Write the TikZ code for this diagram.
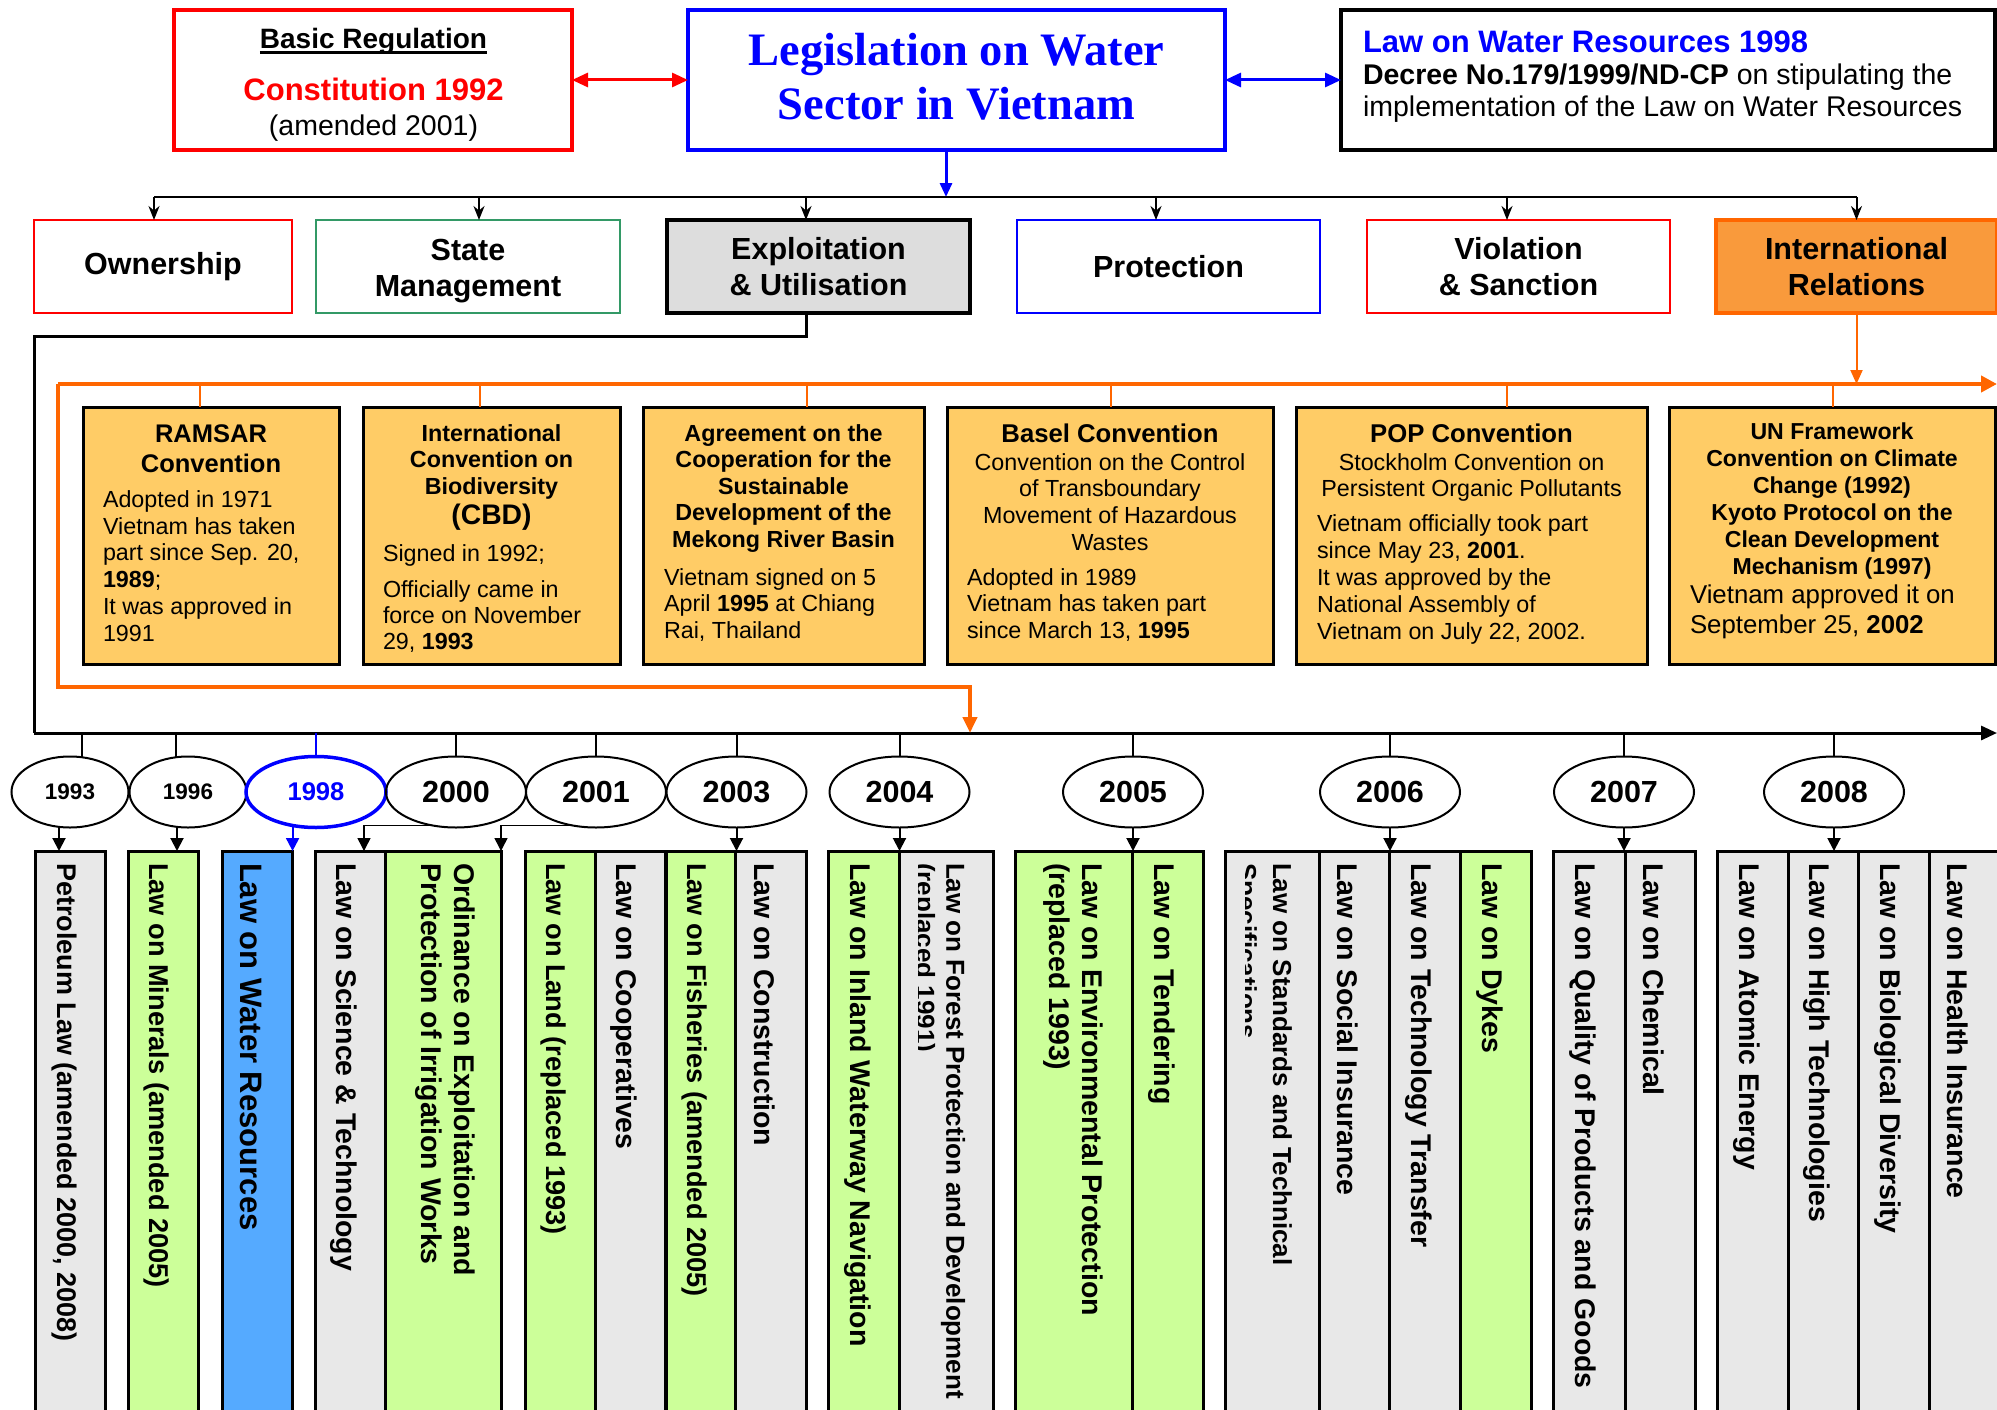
\documentclass[tikz,border=0pt]{standalone}
\usepackage{fontspec}
\setmainfont{Liberation Sans}
\newfontfamily\headserif{Liberation Serif}
\usetikzlibrary{arrows.meta,shapes.geometric,calc}

\definecolor{lawgray}{HTML}{E8E8E8}
\definecolor{lawgreen}{HTML}{CCFF99}
\definecolor{lawblue}{HTML}{55AAFF}
\definecolor{convfill}{HTML}{FFCC66}
\definecolor{irfill}{HTML}{F99A3C}
\definecolor{orangeline}{HTML}{FF6600}
\definecolor{smgreen}{HTML}{339966}
\definecolor{expgray}{HTML}{DDDDDD}

\newcommand\fsz[2]{\fontsize{#1}{#2}\selectfont}

\begin{document}
\begin{tikzpicture}[x=1pt,y=-1pt,
  every node/.style={inner sep=0pt,outer sep=0pt},
  catbox/.style={draw, minimum width=#1, minimum height=93, align=center,
    font=\bfseries\fsz{30.5}{36}},
  convbox/.style={draw, line width=3pt, fill=convfill, minimum width=#1, minimum height=257},
  ctitle/.style 2 args={anchor=north, align=center, font=\bfseries\fsz{#1}{#2}},
  csub/.style 2 args={anchor=north, align=center, font=\fsz{#1}{#2}},
  cbody/.style 2 args={anchor=north west, align=left, font=\fsz{#1}{#2}},
  lawbox/.style={draw, line width=3pt, anchor=north west, minimum width=#1, minimum height=600},
  lawtxt/.style={rotate=-90, anchor=west, align=left, font=\bfseries\fsz{28.5}{33}},
  yearell/.style={draw, ellipse, line width=2pt, minimum width=140, minimum height=71,
    font=\bfseries\fsz{30.5}{34}},
  catarr/.style={line width=2pt, -{Stealth[length=14pt,width=11pt]}},
  yarr/.style={line width=2pt, -{Triangle[length=13pt,width=13pt]}},
  tickline/.style={line width=2pt},
  otick/.style={line width=2pt, orangeline},
]
\fill[white] (0,0) rectangle (1997,1410);
\useasboundingbox (0,0) rectangle (1997,1410);

% ---------- top row ----------
\node[draw=red, line width=3.5pt, minimum width=398, minimum height=140] (basic) at (373,80) {};
\node[anchor=base, font=\bfseries\fsz{28}{32}] (basicT) at (373.5,48.5) {Basic Regulation};
\draw[line width=3pt] ([yshift=-4.5pt]basicT.base west) -- ([yshift=-4.5pt]basicT.base east);
\node[anchor=base, font=\bfseries\fsz{31}{34}, text=red] (const) at (373.5,100.5) {Constitution 1992};
\node[anchor=base, font=\fsz{28.5}{32}] (amend) at (373.5,135.5) {(amended 2001)};

\node[draw=blue, line width=3.5pt, minimum width=537, minimum height=140] (title) at (956.5,80) {};
\node[anchor=base, font=\headserif\bfseries\fsz{46.5}{52}, text=blue] (title1) at (956.5,66) {Legislation on Water};
\node[anchor=base, font=\headserif\bfseries\fsz{46.5}{52}, text=blue] (title2) at (956.5,120) {Sector in Vietnam};

\node[draw, line width=4pt, minimum width=654, minimum height=140] (water) at (1668,80) {};
\node[anchor=base west, font=\bfseries\fsz{31}{34}, text=blue] (lwr) at (1363,52.5) {Law on Water Resources 1998};
\node[anchor=base west, font=\fsz{28.5}{32}] (decree1) at (1363,84.5) {\textbf{Decree No.179/1999/ND-CP} on stipulating the};
\node[anchor=base west, font=\fsz{28.5}{32}] (decree2) at (1363,117) {implementation of the Law on Water Resources};

\draw[line width=3pt, red, {Triangle[length=16pt,width=14pt]}-{Triangle[length=16pt,width=14pt]}] (basic.east) -- (title.west);
\draw[line width=3pt, blue, {Triangle[length=16pt,width=14pt]}-{Triangle[length=16pt,width=14pt]}] (title.east) -- (water.west);

% ---------- categories ----------
\node[catbox=258, draw=red, line width=2pt] (own) at (163,266.5) {Ownership};
\node[catbox=304, draw=smgreen, line width=2.5pt] (sm) at (468,266.5) {};
\node[align=center, font=\bfseries\fsz{30.5}{36}] (smT) at ([yshift=-5pt]sm.center) {State\\Management};
\node[catbox=303, fill=expgray, line width=4pt] (exp) at (818.5,266.5) {Exploitation\\\& Utilisation};
\node[catbox=303, draw=blue, line width=2.5pt] (prot) at (1168.5,266.5) {Protection};
\node[catbox=303, draw=red, line width=2pt] (viol) at (1518.5,266.5) {Violation\\\& Sanction};
\node[catbox=281, draw=orangeline, fill=irfill, line width=4pt] (ir) at (1856.5,266.5) {International\\Relations};

\coordinate (hub) at (946,197);
\draw[line width=3pt, blue, -{Triangle[length=14pt,width=12pt]}] (title.south -| hub) -- (hub);
\draw[line width=2pt] ([xshift=-9pt]own.north |- hub) -- (ir.north |- hub);
\draw[catarr] ([xshift=-9pt]own.north |- hub) -- ([xshift=-9pt]own.north);
\draw[catarr] ([xshift=11pt]sm.north |- hub) -- ([xshift=11pt]sm.north);
\draw[catarr] ([xshift=-12.5pt]exp.north |- hub) -- ([xshift=-12.5pt]exp.north);
\draw[catarr] ([xshift=-12.5pt]prot.north |- hub) -- ([xshift=-12.5pt]prot.north);
\draw[catarr] ([xshift=-11.5pt]viol.north |- hub) -- ([xshift=-11.5pt]viol.north);
\draw[catarr] (ir.north |- hub) -- (ir.north);

% ---------- timeline ----------
\coordinate (tl0) at (34,733);
\coordinate (tlend) at (1997,733);
\draw[line width=3pt] ([xshift=-12.5pt]exp.south) -- ++(0,23) -| (tl0);
\draw[line width=3pt, -{Triangle[length=16pt,width=14pt]}] (tl0) -- (tlend);

% ---------- international conventions ----------
\coordinate (oL) at (58,384);
\coordinate (oR) at (1997,384);
\coordinate (oD) at (970,687);
\draw[line width=4pt, orangeline, -{Triangle[length=16pt,width=16pt]}] (oL) -- (oR);
\draw[line width=4pt, orangeline, -{Triangle[length=16pt,width=14pt]}] (oL) |- (oD) -- (oD |- tl0);
\draw[line width=2pt, orangeline, -{Triangle[length=14pt,width=12pt]}] (ir.south) -- (ir.south |- oL);

\node[convbox=256] (ramsar) at (211,535.5) {};
\node[convbox=257] (cbd) at (491.5,535.5) {};
\node[convbox=281] (mekong) at (783.5,535.5) {};
\node[convbox=326] (basel) at (1110,535.5) {};
\node[convbox=351] (pop) at (1471.5,535.5) {};
\node[convbox=326] (unf) at (1832,535.5) {};

\draw[otick] ([xshift=-11pt]ramsar.north |- oL) -- ([xshift=-11pt]ramsar.north);
\draw[otick] ([xshift=-11.5pt]cbd.north |- oL) -- ([xshift=-11.5pt]cbd.north);
\draw[otick] ([xshift=23.5pt]mekong.north |- oL) -- ([xshift=23.5pt]mekong.north);
\draw[otick] ([xshift=1pt]basel.north |- oL) -- ([xshift=1pt]basel.north);
\draw[otick] ([xshift=35.5pt]pop.north |- oL) -- ([xshift=35.5pt]pop.north);
\draw[otick] ([xshift=1pt]unf.north |- oL) -- ([xshift=1pt]unf.north);

\node[ctitle={25.5}{30}] (ramsarT) at (211,424.6) {RAMSAR\\Convention};
\node[cbody={23.3}{26.8}] (ramsarB) at (103,490.4) {Adopted in 1971\\Vietnam has taken\\part since Sep. 20,\\\textbf{1989};\\It was approved in\\1991};

\node[ctitle={23.3}{26.5}] (cbdT) at (491.5,424.4) {International\\Convention on\\Biodiversity};
\node[ctitle={28.3}{32}] (cbdA) at (491.5,503.5) {(CBD)};
\node[cbody={23.3}{26.2}] (cbdB) at (383,544.4) {Signed in 1992;};
\node[cbody={23.3}{26.2}] (cbdC) at (383,580.4) {Officially came in\\force on November\\29, \textbf{1993}};

\node[ctitle={23.3}{26.5}] (mekongT) at (783.5,424.4) {Agreement on the\\Cooperation for the\\Sustainable\\Development of the\\Mekong River Basin};
\node[cbody={23.3}{26.7}] (mekongB) at (664,568.4) {Vietnam signed on 5\\April \textbf{1995} at Chiang\\Rai, Thailand};

\node[ctitle={25.7}{30}] (baselT) at (1110,423.5) {Basel Convention};
\node[csub={23.3}{26.7}] (baselS) at (1110,453.4) {Convention on the Control\\of Transboundary\\Movement of Hazardous\\Wastes};
\node[cbody={23.3}{26.7}] (baselB) at (967,568.4) {Adopted in 1989\\Vietnam has taken part\\since March 13, \textbf{1995}};

\node[ctitle={25.7}{30}] (popT) at (1471.5,423.5) {POP Convention};
\node[csub={23.3}{26.7}] (popS) at (1471.5,453.4) {Stockholm Convention on\\Persistent Organic Pollutants};
\node[cbody={23.3}{27}] (popB) at (1317,514.4) {Vietnam officially took part\\since May 23, \textbf{2001}.\\It was approved by the\\National Assembly of\\Vietnam on July 22, 2002.};

\node[ctitle={23.1}{27}] (unfT) at (1832,422.5) {UN Framework\\Convention on Climate\\Change (1992)\\Kyoto Protocol on the\\Clean Development\\Mechanism (1997)};
\node[cbody={25.8}{30}] (unfB) at (1690,584.5) {Vietnam approved it on\\September 25, \textbf{2002}};

% ---------- years ----------
\node[yearell, minimum width=117, font=\bfseries\fsz{22.5}{26}] (y1993) at (70,792) {1993};
\node[yearell, minimum width=117, font=\bfseries\fsz{22.5}{26}] (y1996) at (188,792) {1996};
\node[yearell, draw=blue, line width=3.5pt, text=blue, font=\bfseries\fsz{25.6}{28}] (y1998) at (316,792) {1998};
\node[yearell] (y2000) at (456,792) {2000};
\node[yearell] (y2001) at (596,792) {2001};
\node[yearell] (y2003) at (736.5,792) {2003};
\node[yearell] (y2004) at (899.5,792) {2004};
\node[yearell] (y2005) at (1133,792) {2005};
\node[yearell] (y2006) at (1390,792) {2006};
\node[yearell] (y2007) at (1624,792) {2007};
\node[yearell] (y2008) at (1834,792) {2008};

\draw[tickline] ([xshift=12pt]y1993.north |- tl0) -- ([xshift=12pt]y1993.north);
\draw[tickline] ([xshift=-12pt]y1996.north |- tl0) -- ([xshift=-12pt]y1996.north);
\draw[line width=1.5pt, blue] (y1998.north |- tl0) -- (y1998.north);
\foreach \yr in {2000,2001,2003,2004,2005,2006,2007,2008}
  \draw[tickline] (y\yr.north |- tl0) -- (y\yr.north);

% ---------- laws ----------
\node[lawbox=70, fill=lawgray] (law1) at (35,851) {};
\node[lawbox=70, fill=lawgreen] (law2) at (128,851) {};
\node[lawbox=70, fill=lawblue] (law3) at (222,851) {};
\node[lawbox=70, fill=lawgray] (law4) at (315,851) {};
\node[lawbox=116, fill=lawgreen] (law5) at (385,851) {};
\node[lawbox=70, fill=lawgreen] (law6) at (525,851) {};
\node[lawbox=70, fill=lawgray] (law7) at (595,851) {};
\node[lawbox=69, fill=lawgreen] (law8) at (666,851) {};
\node[lawbox=71, fill=lawgray] (law9) at (735,851) {};
\node[lawbox=71, fill=lawgreen] (law10) at (828,851) {};
\node[lawbox=94, fill=lawgray] (law11) at (899,851) {};
\node[lawbox=117, fill=lawgreen] (law12) at (1015,851) {};
\node[lawbox=71, fill=lawgreen] (law13) at (1132,851) {};
\node[lawbox=94, fill=lawgray] (law14) at (1225,851) {};
\node[lawbox=70, fill=lawgray] (law15) at (1319,851) {};
\node[lawbox=71, fill=lawgray] (law16) at (1389,851) {};
\node[lawbox=71, fill=lawgreen] (law17) at (1460,851) {};
\node[lawbox=72, fill=lawgray] (law18) at (1553,851) {};
\node[lawbox=70, fill=lawgray] (law19) at (1625,851) {};
\node[lawbox=71, fill=lawgray] (law20) at (1717,851) {};
\node[lawbox=70, fill=lawgray] (law21) at (1788,851) {};
\node[lawbox=71, fill=lawgray] (law22) at (1858,851) {};
\node[lawbox=70, fill=lawgray] (law23) at (1929,851) {};

\node[lawtxt, font=\bfseries\fsz{27}{31}] (law1t) at ([xshift=-6pt,yshift=-12pt]law1.north) {Petroleum Law (amended 2000, 2008)};
\node[lawtxt, font=\bfseries\fsz{27.2}{31}] (law2t) at ([xshift=-6pt,yshift=-12pt]law2.north) {Law on Minerals (amended 2005)};
\node[lawtxt, font=\bfseries\fsz{31}{34}] (law3t) at ([xshift=-6pt,yshift=-12pt]law3.north) {Law on Water Resources};
\node[lawtxt] (law4t) at ([xshift=-6pt,yshift=-12pt]law4.north) {Law on Science \& Technology};
\node[lawtxt] (law5t) at ([xshift=2pt,yshift=-12pt]law5.north) {Ordinance on Exploitation and\\Protection of Irrigation Works};
\node[lawtxt, font=\bfseries\fsz{27.2}{31}] (law6t) at ([xshift=-6pt,yshift=-12pt]law6.north) {Law on Land (replaced 1993)};
\node[lawtxt] (law7t) at ([xshift=-6pt,yshift=-12pt]law7.north) {Law on Cooperatives};
\node[lawtxt, font=\bfseries\fsz{27.2}{31}] (law8t) at ([xshift=-6pt,yshift=-12pt]law8.north) {Law on Fisheries (amended 2005)};
\node[lawtxt] (law9t) at ([xshift=-6pt,yshift=-12pt]law9.north) {Law on Construction};
\node[lawtxt] (law10t) at ([xshift=-6pt,yshift=-12pt]law10.north) {Law on Inland Waterway Navigation};
\begin{scope}
  \clip (918.5,851) rectangle (993,1410);
  \node[lawtxt, font=\bfseries\fsz{26}{30}] (law11t) at ([xshift=-7.8pt,yshift=-12pt]law11.north) {Law on Forest Protection and Development\\(replaced 1991)};
\end{scope}
\node[lawtxt] (law12t) at ([yshift=-12pt]law12.north) {Law on Environmental Protection\\(replaced 1993)};
\node[lawtxt] (law13t) at ([xshift=-6pt,yshift=-12pt]law13.north) {Law on Tendering};
\begin{scope}
  \clip (1245,851) rectangle (1319,1410);
  \node[lawtxt, font=\bfseries\fsz{26}{35}] (law14t) at ([xshift=-9.7pt,yshift=-12pt]law14.north) {Law on Standards and Technical\\Specifications};
\end{scope}
\node[lawtxt] (law15t) at ([xshift=-6pt,yshift=-12pt]law15.north) {Law on Social Insurance};
\node[lawtxt] (law16t) at ([xshift=-6pt,yshift=-12pt]law16.north) {Law on Technology Transfer};
\node[lawtxt] (law17t) at ([xshift=-6pt,yshift=-12pt]law17.north) {Law on Dykes};
\node[lawtxt] (law18t) at ([xshift=-6pt,yshift=-12pt]law18.north) {Law on Quality of Products and Goods};
\node[lawtxt] (law19t) at ([xshift=-6pt,yshift=-12pt]law19.north) {Law on Chemical};
\node[lawtxt] (law20t) at ([xshift=-6pt,yshift=-12pt]law20.north) {Law on Atomic Energy};
\node[lawtxt] (law21t) at ([xshift=-6pt,yshift=-12pt]law21.north) {Law on High Technologies};
\node[lawtxt] (law22t) at ([xshift=-6pt,yshift=-12pt]law22.north) {Law on Biological Diversity};
\node[lawtxt] (law23t) at ([xshift=-6pt,yshift=-12pt]law23.north) {Law on Health Insurance};

% ---------- year to law arrows ----------
\draw[yarr] ([xshift=-11pt]y1993.south) -- ([xshift=-11pt]law1.north);
\draw[yarr] ([xshift=-11pt]y1996.south) -- ([xshift=14pt]law2.north);
\draw[yarr, blue] (y1998.235) -- (y1998.235 |- law3.north);
\draw[yarr, line width=1.5pt] (y2000.235) -| ([xshift=14pt]law4.north);
\draw[yarr, line width=1.5pt] (y2001.235) -| (law5.north east);
\draw[yarr] (y2003.south) -- (y2003.south |- law8.north);
\draw[yarr] (y2004.south) -- (y2004.south |- law10.north);
\draw[yarr] (y2005.south) -- (y2005.south |- law12.north);
\draw[yarr] (y2006.south) -- (y2006.south |- law15.north);
\draw[yarr] (y2007.south) -- (y2007.south |- law18.north);
\draw[yarr] (y2008.south) -- (y2008.south |- law21.north);
\end{tikzpicture}
\end{document}
